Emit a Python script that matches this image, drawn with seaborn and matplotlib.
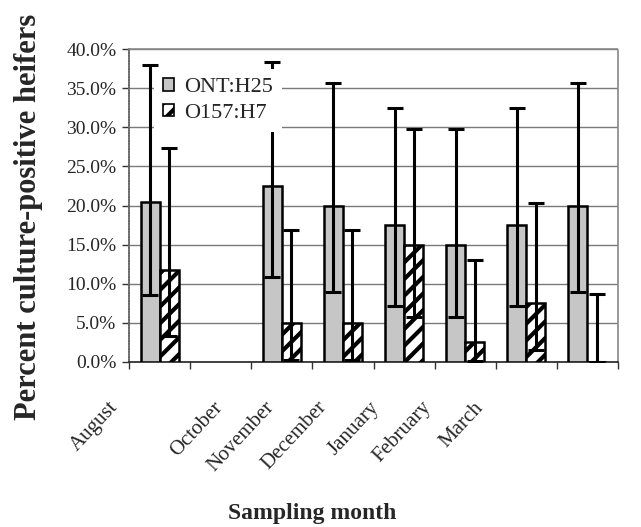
import numpy as np
import pandas as pd
import matplotlib
matplotlib.use("Agg")
import matplotlib.pyplot as plt
import seaborn as sns
from matplotlib.patches import Patch
import matplotlib.transforms as mtransforms

# ---- data (percent) ----
months = ["August", "September", "October", "November", "December", "January", "February", "March"]
month_labels = ["August", "", "October", "November", "December", "January", "February", "March"]
sampled = ["August", "October", "November", "December", "January", "February", "March"]
ont_value = [20.5, 22.5, 20.0, 17.5, 15.0, 17.5, 20.0]
ont_lower = [8.6, 10.8, 9.0, 7.2, 5.8, 7.2, 9.0]
ont_upper = [38.0, 38.4, 35.7, 32.5, 29.8, 32.5, 35.6]
o157_value = [11.7, 5.0, 5.0, 15.0, 2.5, 7.5, 0.0]
o157_lower = [3.3, 0.2, 0.2, 5.8, 0.1, 1.5, 0.0]
o157_upper = [27.3, 16.9, 16.9, 29.8, 13.0, 20.3, 8.7]
series = ["ONT:H25", "O157:H7"]
yticks = [0, 5, 10, 15, 20, 25, 30, 35, 40]

sns.set_theme(style="white")
plt.rcParams["font.family"] = ["Liberation Serif", "DejaVu Serif"]
plt.rcParams["hatch.linewidth"] = 3.0
plt.rcParams["hatch.color"] = "black"

df = pd.DataFrame({
    "month": sampled * 2,
    "series": [series[0]] * len(sampled) + [series[1]] * len(sampled),
    "value": ont_value + o157_value,
    "lower": ont_lower + o157_lower,
    "upper": ont_upper + o157_upper,
})

fig = plt.figure(figsize=(6.41, 5.27), dpi=100)
ax = fig.add_axes([129 / 641, 1 - 362 / 527, (618 - 129) / 641, (362 - 49) / 527])

sns.barplot(data=df, x="month", y="value", hue="series", order=months,
            hue_order=series, palette=["#c6c6c6", "white"], width=0.62,
            errorbar=None, edgecolor="black", linewidth=1.8, ax=ax,
            legend=False, zorder=3)

# hatch for O157 bars, error bars
lookup = df.set_index(["series", "month"])
for cont, s in zip(ax.containers, series):
    for bar in cont:
        bar.set_edgecolor("black")
        if s == series[1]:
            bar.set_hatch("//")
        cx = bar.get_x() + bar.get_width() / 2
        m = months[int(round(cx))]
        row = lookup.loc[(s, m)]
        v = row["value"]
        ax.errorbar(cx, v, yerr=[[v - row["lower"]], [row["upper"] - v]],
                    fmt="none", ecolor="black", elinewidth=2.2,
                    capsize=6 if s == series[0] else 5.5, capthick=2.2, zorder=4)

ax.set_xlim(-0.5, len(months) - 0.5)
ax.set_ylim(0, 40)
ax.set_yticks(yticks)
ax.set_yticklabels([f"{t:.1f}%" for t in yticks], fontsize=14)
ax.set_xticks(np.arange(len(months) + 1) - 0.5)
ax.set_xticklabels([])
ax.tick_params(axis="x", direction="out", length=5, width=1, color="#333333", bottom=True)
ax.tick_params(axis="y", direction="out", length=5, width=1, color="#333333", left=True, pad=4)
ax.yaxis.grid(True, color="#7a7a7a", linewidth=1.0, zorder=0)
ax.xaxis.grid(False)
ax.set_axisbelow(True)
ax.set_xlabel("")
ax.set_ylabel("")

for side in ["top", "right"]:
    ax.spines[side].set_visible(True)
    ax.spines[side].set_color("#888888")
    ax.spines[side].set_linestyle((0, (1, 1)))
    ax.spines[side].set_linewidth(1.2)
ax.spines["left"].set_color("#666666")
ax.spines["left"].set_linestyle((0, (1, 0.6)))
ax.spines["left"].set_linewidth(1.2)
ax.spines["bottom"].set_color("#222222")
ax.spines["bottom"].set_linewidth(1.2)

# month labels (rotated), compressed spacing like the reference
lab_trans = mtransforms.blended_transform_factory(ax.transData, ax.transAxes)
for i, lab in enumerate(month_labels):
    if not lab:
        continue
    ax.text(-0.84 + 0.854 * i, -0.115, lab, rotation=47, rotation_mode="anchor",
            ha="right", va="top", fontsize=15, transform=lab_trans, clip_on=False)

# legend
handles = [Patch(facecolor="#c6c6c6", edgecolor="black", linewidth=1.2),
           Patch(facecolor="white", edgecolor="black", linewidth=1.2, hatch="//")]
leg = ax.legend(handles, series, loc="upper left", bbox_to_anchor=(0.051, 0.936),
                borderaxespad=0, frameon=True, fancybox=False, framealpha=1,
                facecolor="white", edgecolor="none", fontsize=16,
                handlelength=0.5, handleheight=0.5, handletextpad=0.45,
                labelspacing=0.3, borderpad=0.4)
leg.set_zorder(6)

fig.text(0.045, 0.588, "Percent culture-positive heifers", rotation=90,
         ha="center", va="center", fontsize=22, fontweight="bold")
fig.text(0.487, 0.025, "Sampling month", ha="center", va="center",
         fontsize=17, fontweight="bold")

fig.savefig("out.png", dpi=100)
